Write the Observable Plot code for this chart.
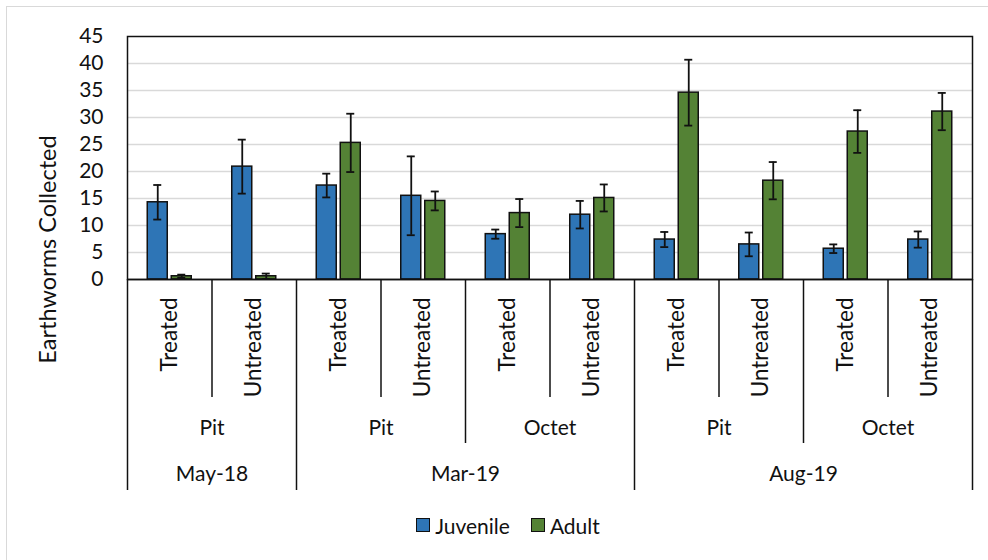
<!DOCTYPE html>
<html>
<head>
<meta charset="utf-8">
<script src="https://cdn.jsdelivr.net/npm/d3@7"></script>
<script src="https://cdn.jsdelivr.net/npm/@observablehq/plot@0.6"></script>
<style>
  html, body { margin: 0; padding: 0; background: #fff; overflow: hidden; }
  body { width: 988px; height: 560px; position: relative; font-family: Lato, sans-serif; }
  #border { position: absolute; left: 6px; top: 6px; width: 1100px; height: 700px;
            border-left: 1.5px solid #d9d9d9; border-top: 1.5px solid #d9d9d9; z-index: 2; pointer-events: none; }
  #legend { height: 50px; display: flex; align-items: center; justify-content: center; gap: 0;
            font-size: 21px; color: #111; padding-left: 28px; box-sizing: border-box; }
  .item { display: flex; align-items: center; }
  .sw { width: 12px; height: 12px; border: 1.5px solid #111; margin-right: 5px; }
</style>
</head>
<body>
<div id="border"></div>
<div id="chart"></div>
<div id="legend"></div>
<script>
// ---- data ----
const dates      = ["May-18","May-18","Mar-19","Mar-19","Mar-19","Mar-19","Aug-19","Aug-19","Aug-19","Aug-19"];
const methods    = ["Pit","Pit","Pit","Pit","Octet","Octet","Pit","Pit","Octet","Octet"];
const treatments = ["Treated","Untreated","Treated","Untreated","Treated","Untreated","Treated","Untreated","Treated","Untreated"];
const juvenile    = [14.3, 20.9, 17.4, 15.5, 8.4, 12.0, 7.4, 6.5, 5.7, 7.4];
const juvenileErr = [3.2, 5.0, 2.2, 7.3, 0.85, 2.55, 1.4, 2.2, 0.8, 1.5];
const adult       = [0.6, 0.6, 25.3, 14.55, 12.3, 15.1, 34.6, 18.3, 27.4, 31.1];
const adultErr    = [0.3, 0.5, 5.4, 1.75, 2.6, 2.5, 6.1, 3.45, 3.95, 3.45];
const series = ["Juvenile", "Adult"];
const colors = ["#2E75B6", "#548235"];
const yTicks = [0, 5, 10, 15, 20, 25, 30, 35, 40, 45];
const yLabel = "Earthworms Collected";

// ---- layout ----
const W = 988, H = 500, ML = 127, MR = 16, MT = 36, MB = 221;
const n = treatments.length;
const step = (W - ML - MR) / n;
const frameH = H - MT - MB;
const barW = 20, off = 12, capW = 8;

const keys = treatments.map((t, i) => `${dates[i]}|${methods[i]}|${t}`);

const rows = [];
keys.forEach((k, i) => {
  rows.push({key: k, s: 0, v: juvenile[i], e: juvenileErr[i]});
  rows.push({key: k, s: 1, v: adult[i], e: adultErr[i]});
});

// group runs
function runs(labelOf) {
  const out = [];
  let start = 0;
  for (let i = 1; i <= n; i++) {
    if (i === n || labelOf(i) !== labelOf(start)) {
      out.push({label: labelOf(start).split("|").pop(), start, len: i - start});
      start = i;
    }
  }
  return out;
}
const methodGroups = runs(i => dates[i] + "|" + methods[i]);
const dateGroups = runs(i => dates[i]);
const grpAnchor = g => ({label: g.label, key: keys[g.start + g.len / 2 - 1]});

// boundaries
const bounds = d3.range(n + 1).map(b => {
  let level;
  if (b === 0 || b === n || dates[b] !== dates[b - 1]) level = 3;
  else if (methods[b] !== methods[b - 1]) level = 2;
  else level = 1;
  return {key: b < n ? keys[b] : keys[n - 1], side: b < n ? -1 : 1, level};
});
const levelLen = {1: 118, 2: 164, 3: 211};

const sepMarks = [];
[1, 2, 3].forEach(lv => [-1, 1].forEach(side => {
  const data = bounds.filter(b => b.level === lv && b.side === side);
  if (data.length) sepMarks.push(Plot.ruleX(data, {
    x: "key", dx: side * step / 2, stroke: "#111", strokeWidth: 1.5,
    insetTop: frameH, insetBottom: -levelLen[lv]
  }));
}));

const barMarks = series.map((s, si) => {
  const center = step / 2 + (si === 0 ? -off : off);
  const data = rows.filter(r => r.s === si);
  return [
    Plot.barY(data, {x: "key", y: "v", fill: colors[si], stroke: "#111", strokeWidth: 1.5,
      insetLeft: center - barW / 2, insetRight: step - center - barW / 2}),
    Plot.ruleX(data, {x: "key", y1: d => d.v - d.e, y2: d => d.v + d.e, dx: center - step / 2,
      stroke: "#111", strokeWidth: 1.8}),
    Plot.tickY(data, {x: "key", y: d => d.v + d.e, stroke: "#111", strokeWidth: 1.8,
      insetLeft: center - capW / 2, insetRight: step - center - capW / 2}),
    Plot.tickY(data, {x: "key", y: d => d.v - d.e, stroke: "#111", strokeWidth: 1.8,
      insetLeft: center - capW / 2, insetRight: step - center - capW / 2})
  ];
});

const chart = Plot.plot({
  width: W, height: H,
  marginLeft: ML, marginRight: MR, marginTop: MT, marginBottom: MB,
  style: {fontFamily: "Lato, sans-serif", fontSize: "21px", color: "#111", background: "transparent"},
  x: {type: "band", domain: keys, paddingInner: 0, paddingOuter: 0, round: false, axis: null},
  y: {domain: [0, 45], axis: null},
  marks: [
    Plot.gridY(yTicks.filter(t => t > 0 && t < 45), {stroke: "#d9d9d9", strokeOpacity: 1, strokeWidth: 1.5}),
    Plot.axisY({ticks: yTicks, tickSize: 0, tickPadding: 24, label: null, fontSize: 21}),
    ...barMarks.flat(),
    Plot.frame({stroke: "#111", strokeWidth: 1.5}),
    Plot.ruleY([0], {stroke: "#111", strokeWidth: 1.5}),
    // hierarchical category axis
    ...sepMarks,
    Plot.text(keys, {x: d => d, text: (d, i) => treatments[i], frameAnchor: "bottom", rotate: -90,
      textAnchor: "end", lineAnchor: "middle", dy: 18, fontSize: 22.5}),
    Plot.text(methodGroups.map(grpAnchor), {x: "key", text: "label", frameAnchor: "bottom",
      dx: step / 2, dy: 149, lineAnchor: "middle", fontSize: 21}),
    Plot.text(dateGroups.map(grpAnchor), {x: "key", text: "label", frameAnchor: "bottom",
      dx: step / 2, dy: 195, lineAnchor: "middle", fontSize: 21}),
    Plot.text([yLabel], {frameAnchor: "left", textAnchor: "middle", lineAnchor: "middle",
      rotate: -90, dx: -79, dy: 91.5, fontSize: 23.5})
  ]
});
document.getElementById("chart").appendChild(chart);

const legend = document.getElementById("legend");
series.forEach((s, i) => {
  const it = document.createElement("div");
  it.className = "item";
  it.style.marginRight = i === 0 ? "21px" : "0";
  it.innerHTML = `<span class="sw" style="background:${colors[i]}"></span><span>${s}</span>`;
  legend.appendChild(it);
});
</script>
</body>
</html>
